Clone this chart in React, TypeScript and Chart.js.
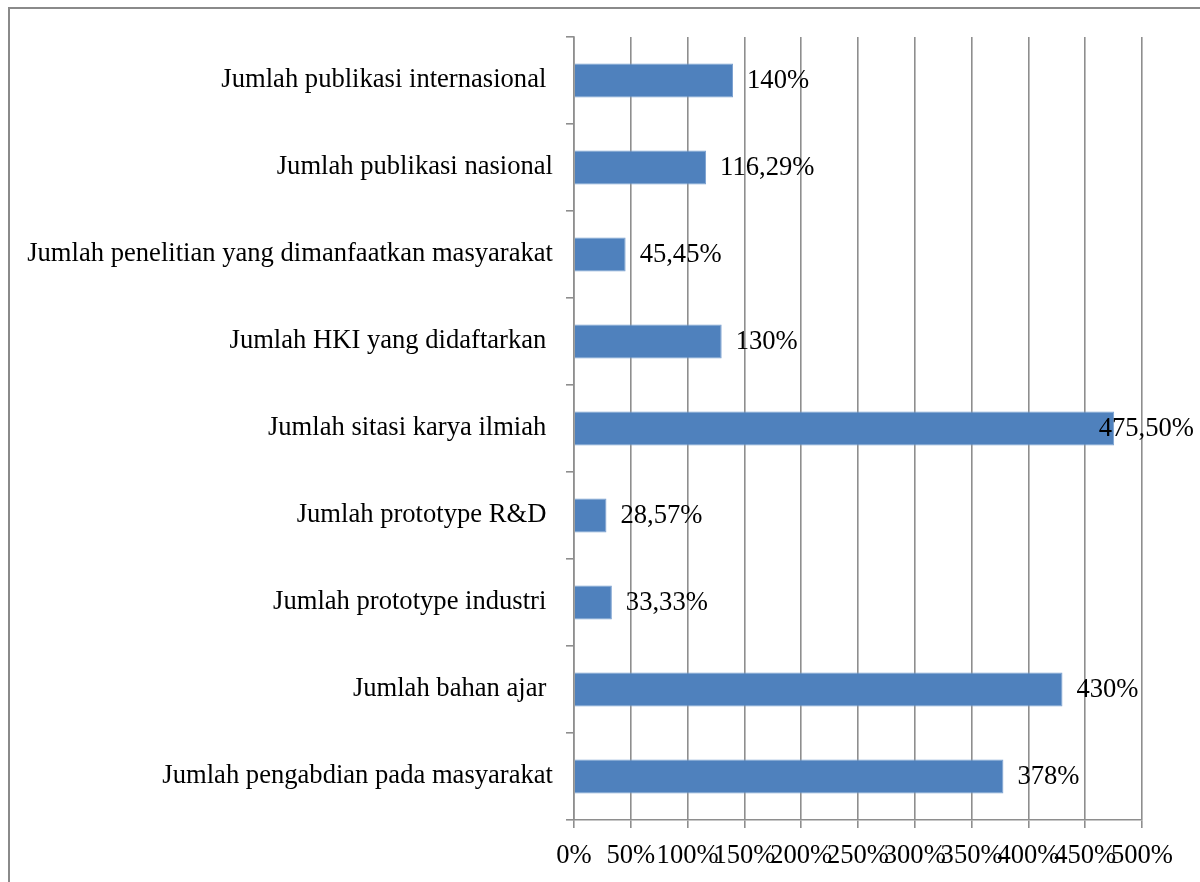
import React, { useEffect, useRef } from "react";
import { Chart, registerables } from "chart.js";

Chart.register(...registerables);

const categories: string[] = [
  "Jumlah publikasi internasional ",
  "Jumlah publikasi nasional",
  "Jumlah penelitian yang dimanfaatkan masyarakat",
  "Jumlah HKI yang didaftarkan ",
  "Jumlah sitasi karya ilmiah ",
  "Jumlah prototype R&D ",
  "Jumlah prototype industri ",
  "Jumlah bahan ajar ",
  "Jumlah pengabdian pada masyarakat",
];

const values: number[] = [140, 116.29, 45.45, 130, 475.5, 28.57, 33.33, 430, 378];

const xMin = 0;
const xMax = 500;
const xStep = 50;

const FONT_FAMILY = "'Times New Roman', 'Liberation Serif', serif";
const FONT_SIZE = 26.6;
const BAR_COLOR = "#4F81BD";
const GRID_COLOR = "#8e8e8e";

function formatPct(v: number): string {
  const s = Number.isInteger(v) ? String(v) : v.toFixed(2);
  return s.replace(".", ",") + "%";
}

const dataLabelPlugin = {
  id: "dataLabels",
  afterDatasetsDraw(chart: any) {
    const ctx = chart.ctx;
    const meta = chart.getDatasetMeta(0);
    ctx.save();
    ctx.font = `${FONT_SIZE}px ${FONT_FAMILY}`;
    ctx.fillStyle = "#000000";
    ctx.textAlign = "left";
    ctx.textBaseline = "middle";
    meta.data.forEach((bar: any, i: number) => {
      const text = formatPct(values[i]);
      const w = ctx.measureText(text).width;
      const x = Math.min(bar.x + 14, chart.width - 6 - w);
      ctx.fillText(text, x, bar.y + 1);
    });
    ctx.restore();
  },
};

export default function App() {
  const canvasRef = useRef<HTMLCanvasElement | null>(null);

  useEffect(() => {
    const canvas = canvasRef.current;
    if (!canvas) return;
    const chart = new Chart(canvas, {
      type: "bar",
      data: {
        labels: categories,
        datasets: [
          {
            data: values,
            backgroundColor: BAR_COLOR,
            borderColor: "#7aa0d0",
            borderWidth: 1,
            barPercentage: 0.39,
            categoryPercentage: 1,
          },
        ],
      },
      options: {
        indexAxis: "y",
        responsive: false,
        animation: false,
        devicePixelRatio: 1,
        layout: { padding: { top: 37, right: 58, left: 0, bottom: 0 } },
        plugins: {
          legend: { display: false },
          tooltip: { enabled: false },
          title: { display: false },
        },
        scales: {
          x: {
            min: xMin,
            max: xMax,
            afterFit: (scale: any) => {
              scale.height = 62;
            },
            ticks: {
              stepSize: xStep,
              autoSkip: false,
              maxRotation: 0,
              minRotation: 0,
              padding: 12,
              color: "#000000",
              font: { family: FONT_FAMILY, size: FONT_SIZE },
              callback: (v: any) => `${v}%`,
            },
            grid: {
              color: GRID_COLOR,
              lineWidth: 1.6,
              tickLength: 8,
              drawTicks: true,
            },
            border: { color: GRID_COLOR, width: 1.6 },
          },
          y: {
            afterFit: (scale: any) => {
              scale.width = 574;
            },
            ticks: {
              autoSkip: false,
              padding: 13,
              color: "#000000",
              font: { family: FONT_FAMILY, size: FONT_SIZE },
            },
            grid: {
              offset: true,
              drawOnChartArea: false,
              color: GRID_COLOR,
              lineWidth: 1.6,
              tickLength: 8,
            },
            border: { color: GRID_COLOR, width: 1.6 },
          },
        },
      },
      plugins: [dataLabelPlugin],
    } as any);
    return () => chart.destroy();
  }, []);

  return (
    <div
      style={{
        position: "fixed",
        left: 0,
        top: 0,
        width: 1200,
        height: 882,
        background: "#ffffff",
        overflow: "hidden",
      }}
    >
      <div
        style={{
          position: "absolute",
          left: 8,
          top: 7,
          width: 1300,
          height: 1000,
          borderLeft: "2px solid #8a8a8a",
          borderTop: "2px solid #8a8a8a",
        }}
      />
      <canvas
        ref={canvasRef}
        width={1200}
        height={882}
        style={{ position: "absolute", left: 0, top: 0, width: 1200, height: 882 }}
      />
    </div>
  );
}
